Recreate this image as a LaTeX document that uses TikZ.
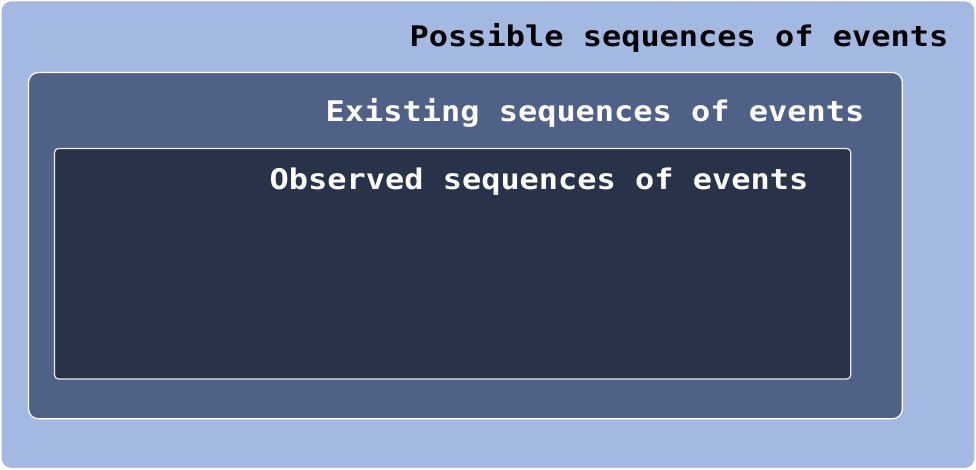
\documentclass[tikz,border=0pt]{standalone}
\usepackage{fontspec}
\newfontfamily\lblfont{DejaVu Sans Mono}
\definecolor{outerc}{HTML}{A3B9E1}
\definecolor{midc}{HTML}{4F6187}
\definecolor{innerc}{HTML}{28334A}
\newcommand{\wide}[1]{\scalebox{1.125}[1]{#1}}
\tikzset{
  box/.style={draw=white, line width=1.2pt},
  lbl/.style={anchor=base west, inner sep=0pt, font=\lblfont\bfseries\fontsize{28.4}{31}\selectfont}
}
\begin{document}
\begin{tikzpicture}[x=1pt,y=-1pt]
\useasboundingbox (0,0) rectangle (976,470);
\fill[white] (0,0) rectangle (976,470);
\draw[box, fill=outerc, rounded corners=10pt] (1,0.8) rectangle (975,468.5);
\draw[box, fill=midc, rounded corners=10pt] (28.5,72.5) rectangle (902.3,418.8);
\draw[box, fill=innerc, rounded corners=4pt, draw=white!85!gray] (54.5,148.5) rectangle (850.7,379);
\node[lbl, text=black] (possible) at (409.5,46.7) {\wide{Possible sequences of events}};
\node[lbl, text=white] (existing) at (325.5,121.7) {\wide{Existing sequences of events}};
\node[lbl, text=white] (observed) at (269.5,190) {\wide{Observed sequences of events}};
\end{tikzpicture}
\end{document}
